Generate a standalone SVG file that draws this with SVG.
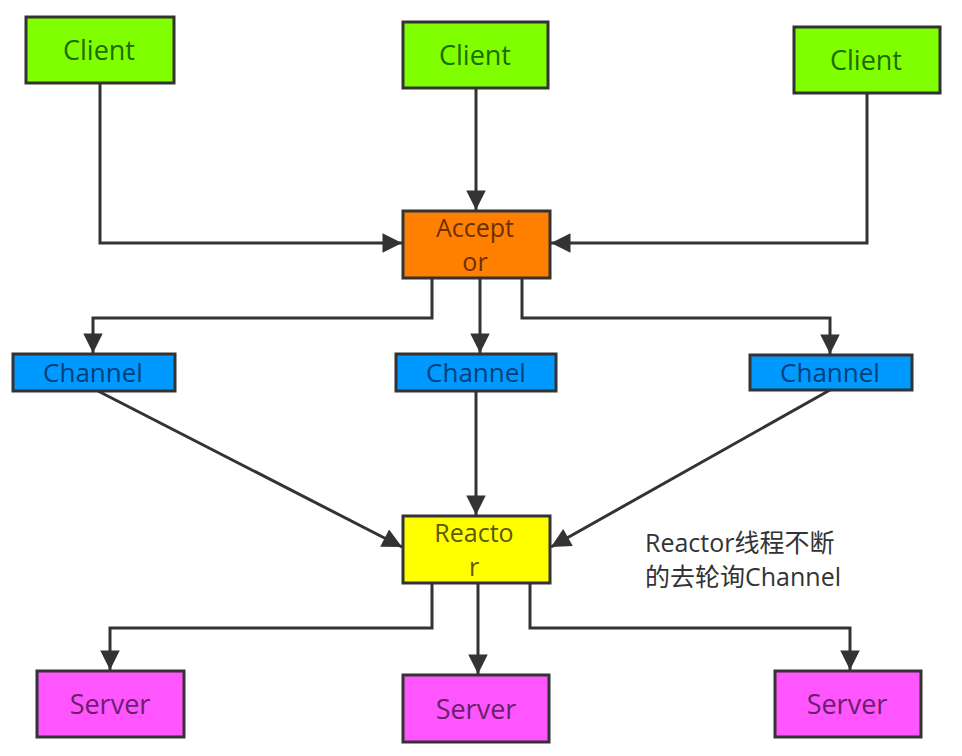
<svg xmlns="http://www.w3.org/2000/svg" width="962" height="756" viewBox="0 0 962 756">
<defs>
<marker id="ah" viewBox="0 0 10 10" refX="10" refY="5" markerWidth="7" markerHeight="6.5" markerUnits="strokeWidth" orient="auto">
<path d="M0,0 L10,5 L0,10 z" fill="#333"/>
</marker>
<style>
.box{stroke:#333;stroke-width:3}
.t{font-family:"Open Sans","Noto Sans CJK SC",sans-serif;font-size:27px;text-anchor:middle}
.t2{font-size:25px}
.c{fill:#80ff00}.ct{fill:#1f6b00}
.a{fill:#ff7f00}.at{fill:#6b3000}
.ch{fill:#0099ff}.cht{fill:#003f7a;font-size:26px}
.r{fill:#ffff00}.rt{fill:#5a5a00}
.s{fill:#ff55ff}.st{fill:#6b1f6b}
.ln{fill:none;stroke:#333;stroke-width:3;marker-end:url(#ah)}
.note{font-family:"Open Sans","Noto Sans CJK SC",sans-serif;font-size:25px;fill:#333}
</style>
</defs>
<rect width="962" height="756" fill="#fff"/>
<g id="connectors">
<path class="ln" d="M100,83 V243 H402"/>
<path class="ln" d="M476,88 V210"/>
<path class="ln" d="M867,93 V243 H551"/>
<path class="ln" d="M432,278 V318 H93 V353"/>
<path class="ln" d="M480,278 V353"/>
<path class="ln" d="M522,278 V318 H830 V354"/>
<path class="ln" d="M98,391 L402,547"/>
<path class="ln" d="M476,391 V515"/>
<path class="ln" d="M830,390 L551,547"/>
<path class="ln" d="M432,583 V628 H110 V670"/>
<path class="ln" d="M478,583 V674"/>
<path class="ln" d="M530,583 V628 H850 V670"/>
</g>
<g id="client1"><rect class="box c" x="26" y="17" width="148" height="66"/><text class="t ct" x="99" y="60">Client</text></g>
<g id="client2"><rect class="box c" x="403" y="22" width="145" height="66"/><text class="t ct" x="475" y="65">Client</text></g>
<g id="client3"><rect class="box c" x="794" y="27" width="146" height="66"/><text class="t ct" x="866" y="70">Client</text></g>
<g id="acceptor"><rect class="box a" x="403" y="211" width="147" height="67"/><text class="t t2 at" x="475" y="237">Accept</text><text class="t t2 at" x="475" y="271">or</text></g>
<g id="channel1"><rect class="box ch" x="13" y="354" width="162" height="37"/><text class="t cht" x="93" y="382">Channel</text></g>
<g id="channel2"><rect class="box ch" x="396" y="354" width="160" height="37"/><text class="t cht" x="476" y="382">Channel</text></g>
<g id="channel3"><rect class="box ch" x="750" y="355" width="162" height="35"/><text class="t cht" x="830" y="382">Channel</text></g>
<g id="reactor"><rect class="box r" x="403" y="516" width="147" height="67"/><text class="t t2 rt" x="474" y="542">Reacto</text><text class="t t2 rt" x="474" y="576">r</text></g>
<g id="server1"><rect class="box s" x="37" y="671" width="147" height="66"/><text class="t st" x="110" y="714">Server</text></g>
<g id="server2"><rect class="box s" x="403" y="675" width="146" height="67"/><text class="t st" x="476" y="719">Server</text></g>
<g id="server3"><rect class="box s" x="775" y="671" width="146" height="66"/><text class="t st" x="847" y="714">Server</text></g>
<g id="note"><text class="note" x="645" y="552">Reactor线程不断</text><text class="note" x="645" y="586">的去轮询Channel</text></g>
</svg>
